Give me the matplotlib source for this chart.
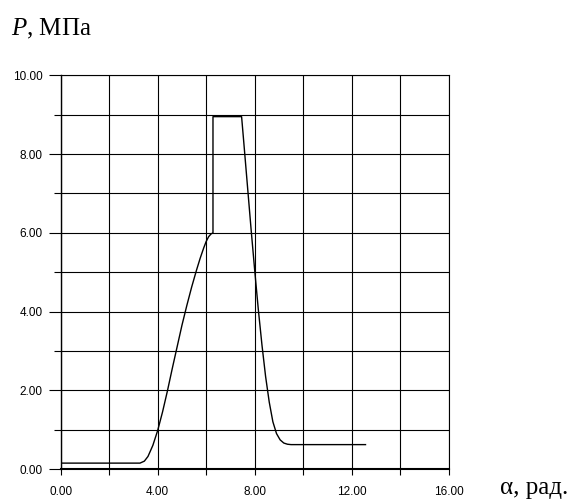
import matplotlib
matplotlib.use("Agg")
import matplotlib.pyplot as plt
from matplotlib.ticker import MultipleLocator, FormatStrFormatter

plt.rcParams["mathtext.fontset"] = "custom"
plt.rcParams["mathtext.it"] = "Liberation Serif:italic"
plt.rcParams["mathtext.rm"] = "Liberation Serif"

# angle, rad
alpha = [0.0, 3.27, 3.45, 3.6, 3.8, 4.0, 4.2, 4.4, 4.6, 4.8, 5.0, 5.2,
         5.4, 5.6, 5.75, 5.9, 6.0, 6.1, 6.2, 6.28,
         6.28, 7.46,
         7.55, 7.7, 7.85, 8.0, 8.15, 8.3, 8.45, 8.6, 8.75, 8.9, 9.05,
         9.2, 9.35, 9.5, 12.57]
# pressure, MPa
pressure = [0.15, 0.15, 0.2, 0.32, 0.6, 0.98, 1.45, 1.98, 2.55, 3.1, 3.65,
            4.15, 4.62, 5.05, 5.35, 5.62, 5.78, 5.9, 5.97, 6.0,
            8.95, 8.95,
            8.3, 7.2, 6.1, 5.05, 4.05, 3.15, 2.35, 1.7, 1.2, 0.9, 0.74,
            0.66, 0.63, 0.62, 0.62]

fig = plt.figure(figsize=(5.77, 5.04), dpi=100)
ax = fig.add_axes([0.1052, 0.0694, 0.6724, 0.7812])

ax.plot(alpha, pressure, color="black", lw=1.0, zorder=3)

ax.set_xlim(0, 16)
ax.set_ylim(0, 10)

# grid every 2 on x and every 1 on y
ax.xaxis.set_major_locator(MultipleLocator(4))
ax.xaxis.set_minor_locator(MultipleLocator(2))
ax.yaxis.set_major_locator(MultipleLocator(2))
ax.yaxis.set_minor_locator(MultipleLocator(1))
ax.xaxis.set_major_formatter(FormatStrFormatter("%.2f"))
ax.yaxis.set_major_formatter(FormatStrFormatter("%.2f"))
ax.grid(which="both", color="black", lw=0.8)

ax.spines["top"].set_linewidth(0.8)
ax.spines["right"].set_linewidth(0.8)
ax.spines["left"].set_linewidth(1.0)
ax.spines["bottom"].set_linewidth(1.5)

ax.tick_params(axis="x", which="both", direction="out", length=4.5, width=0.8,
               pad=8, labelsize=8.5)
ax.tick_params(axis="y", which="major", direction="out", length=9, width=0.8,
               pad=4, labelsize=8.5)
ax.tick_params(axis="y", which="minor", direction="out", length=4.8, width=0.8)
for lab in ax.get_xticklabels() + ax.get_yticklabels():
    lab.set_fontfamily("Liberation Sans")

fig.text(0.019, 0.93, "$P$, МПа", fontsize=18, family="Liberation Serif",
         va="baseline")
fig.text(0.866, 0.02, "α, рад.", fontsize=18, family="Liberation Serif",
         va="baseline")

fig.savefig("out.png", dpi=100)
